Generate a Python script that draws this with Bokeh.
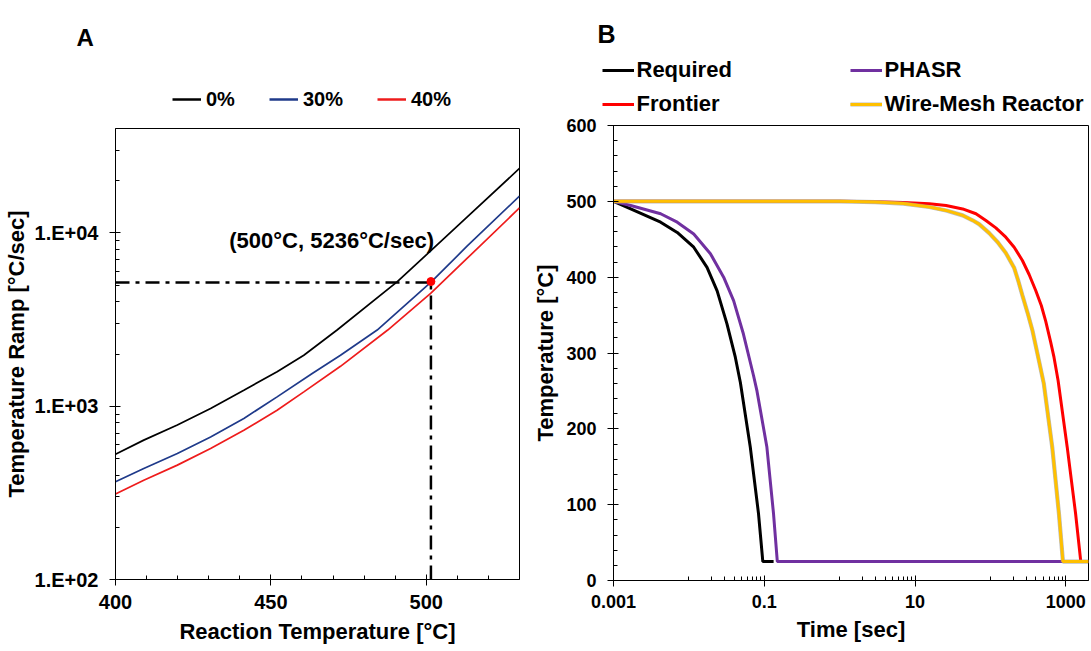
from bokeh.plotting import figure
from bokeh.models import (Range1d, FixedTicker, CustomJSTickFormatter, Legend,
                          LegendItem, Label)
from bokeh.layouts import row, column
from bokeh.embed import file_html
from bokeh.resources import INLINE

FONT = "Liberation Sans"

# ---------------- Panel A data ----------------
a_x_0 = [400, 409.1, 419.9, 430.6, 441.3, 452.0, 460.6, 471.3, 490.6, 501.4, 513.2, 530]
a_y_0 = [528, 637, 778, 970, 1237, 1578, 1968, 2750, 5210, 7870, 12350, 23550]
a_x_30 = [400, 409.1, 419.9, 430.6, 441.3, 452.0, 463.3, 472.4, 484.2, 501.7, 513.2, 530]
a_y_30 = [366, 437, 533, 665, 849, 1132, 1545, 1968, 2750, 5236, 8400, 16300]
a_x_40 = [400, 409.1, 419.9, 430.6, 441.3, 452.0, 460.6, 472.4, 487.6, 501.4, 513.2, 530]
a_y_40 = [311, 374, 457, 570, 726, 948, 1210, 1698, 2750, 4470, 7140, 13930]
a_labels = ["0%", "30%", "40%"]

point_x = [501.5]
point_y = [5236]
guide_h_x = [400, 501.5]
guide_h_y = [5170, 5170]
guide_v_x = [501.5, 501.5]
guide_v_y = [100, 5170]
annot_text = "(500°C, 5236°C/sec)"
annot_x = 436.6
annot_y = 9070

a_xticks = [400, 450, 500]
a_xminor = [410, 420, 430, 440, 460, 470, 480, 490, 510, 520]
a_yticks = [100, 1000, 10000]
a_yminor = [200, 300, 400, 500, 600, 700, 800, 900,
            2000, 3000, 4000, 5000, 6000, 7000, 8000, 9000,
            20000, 30000]

# ---------------- Panel B data ----------------
b_x_req = [0.001, 0.00169, 0.00422, 0.007, 0.0116, 0.0174, 0.0237, 0.032, 0.0413, 0.0482, 0.0652, 0.0839, 0.0957, 0.133]
b_y_req = [500, 490, 472.5, 459, 439.5, 413, 382, 338.5, 294.5, 261, 176, 88, 25, 25]
b_x_phasr = [0.001, 0.00169, 0.00422, 0.007, 0.0116, 0.0193, 0.0289, 0.0392, 0.0529, 0.0721, 0.080, 0.1083, 0.1327, 0.149, 916]
b_y_phasr = [500, 494.5, 483.6, 472.5, 457, 431, 400, 369, 325, 270, 250, 176, 88, 25, 25]
b_x_front = [0.001, 1, 3, 7, 15.5, 25.8, 42.8, 64.3, 87.1, 118, 160, 206.5, 265.6, 326, 399, 473, 541, 630, 697, 790, 1044, 1349, 1580, 2000]
b_y_front = [500, 500, 499.5, 498.5, 496.7, 494.5, 490, 483.6, 474.7, 465, 452.7, 439.5, 422, 403.5, 382.4, 362.6, 342, 314.3, 294.5, 263.7, 175.8, 88, 25, 25]
b_x_wmr = [0.001, 1, 3, 7, 15.5, 25.8, 42.8, 58, 70.7, 96.5, 125, 160, 207, 236, 265.6, 311, 361, 440, 510, 661, 811, 916, 2000]
b_y_wmr = [500, 500, 499, 497, 492.5, 488, 481.5, 475, 470, 458, 446, 432, 412, 394, 376, 353, 329.7, 290, 260, 175.8, 88, 25, 25]
b_labels = ["Required", "PHASR", "Frontier", "Wire-Mesh Reactor"]

b_xticks = [0.001, 0.1, 10, 1000]
b_xminor = [k * 0.01 for k in range(1, 10)] + [k * 1.0 for k in range(1, 10)] + [k * 100.0 for k in range(1, 10)]
b_yticks = [0, 100, 200, 300, 400, 500, 600]
b_yminor = [v for v in range(0, 601, 20) if v % 100]

A_W, B_W = 530, 560
A_HEAD, A_MAIN = 118, 532
B_HEAD, B_MAIN = 117, 533


def style_axes(p, tick_size):
    for ax in (p.xaxis[0], p.yaxis[0]):
        ax.axis_line_color = "black"
        ax.axis_line_width = 1
        ax.major_tick_line_color = "black"
        ax.minor_tick_line_color = "black"
        ax.major_tick_in = 5
        ax.major_tick_out = 6
        ax.minor_tick_in = 4
        ax.minor_tick_out = 0
        ax.major_label_text_font = FONT
        ax.major_label_text_font_style = "bold"
        ax.major_label_text_font_size = tick_size
        ax.major_label_text_color = "black"
        ax.axis_label_text_font = FONT
        ax.axis_label_text_font_style = "bold"
        ax.axis_label_text_font_size = "22px"
        ax.axis_label_text_color = "black"
    p.xgrid.visible = False
    p.ygrid.visible = False
    p.outline_line_color = "black"
    p.outline_line_width = 1
    p.outline_line_alpha = 1


def header(width, height):
    h = figure(width=width, height=height, x_range=Range1d(0, width),
               y_range=Range1d(0, height), x_axis_location=None, y_axis_location=None,
               output_backend="svg", toolbar_location=None, frame_align=False,
               min_border_left=0, min_border_right=0, min_border_top=0, min_border_bottom=0)
    h.xgrid.visible = False
    h.ygrid.visible = False
    h.outline_line_alpha = 0
    return h


def make_legend(items, x, y, glyph_w, gh, standoff, spacing, font_size, label_w=20):
    return Legend(items=items, orientation="horizontal", location=(x, y),
                  glyph_width=glyph_w, glyph_height=gh, label_standoff=standoff,
                  spacing=spacing, label_width=label_w, label_height=gh,
                  padding=0, margin=0, border_line_alpha=0, background_fill_alpha=0,
                  inactive_fill_alpha=0,
                  label_text_font=FONT, label_text_font_style="bold",
                  label_text_font_size=font_size, label_text_color="black")


# ---------------- Figure A ----------------
pa = figure(width=A_W, height=A_MAIN, y_axis_type="log",
            x_range=Range1d(400, 530), y_range=Range1d(100, 40000),
            output_backend="svg", toolbar_location=None, frame_align=False,
            min_border_left=115, min_border_right=11,
            min_border_top=10, min_border_bottom=71)
style_axes(pa, "20px")
pa.xaxis[0].ticker = FixedTicker(ticks=a_xticks, minor_ticks=a_xminor)
pa.yaxis[0].ticker = FixedTicker(ticks=a_yticks, minor_ticks=a_yminor)
pa.yaxis[0].formatter = CustomJSTickFormatter(
    code="return '1.E+' + String(Math.round(Math.log10(tick))).padStart(2, '0');")
pa.xaxis[0].axis_label = "Reaction Temperature [°C]"
pa.yaxis[0].axis_label = "Temperature Ramp [°C/sec]"
pa.xaxis[0].major_label_standoff = 9
pa.xaxis[0].axis_label_standoff = 7
pa.yaxis[0].major_label_standoff = 11
pa.yaxis[0].axis_label_standoff = 3

pa.line(a_x_0, a_y_0, line_color="black", line_width=1.7)
pa.line(a_x_30, a_y_30, line_color="#1F3A8A", line_width=1.7)
pa.line(a_x_40, a_y_40, line_color="#EE1C1C", line_width=1.7)
pa.line(guide_h_x, guide_h_y, line_color="black", line_width=2.5, line_dash="14 6 4 6")
pa.line(guide_v_x, guide_v_y, line_color="black", line_width=2.5, line_dash="14 6 4 6")
pa.scatter(point_x, point_y, size=8, color="#FF0000")
pa.add_layout(Label(x=annot_x, y=annot_y, text=annot_text, text_font=FONT,
                    text_font_style="bold", text_font_size="22px",
                    text_baseline="alphabetic", text_color="black"))

# header A: legend proxies (hidden renderers carrying the same series)
ha = header(A_W, A_HEAD)
la0 = ha.line(a_x_0, a_y_0, line_color="black", line_width=2.5, visible=False)
la30 = ha.line(a_x_30, a_y_30, line_color="#1F3A8A", line_width=2.5, visible=False)
la40 = ha.line(a_x_40, a_y_40, line_color="#EE1C1C", line_width=2.5, visible=False)
ha.add_layout(make_legend([LegendItem(label=l, renderers=[r]) for l, r in zip(a_labels, [la0, la30, la40])],
                          172, 7, 29, 24, 5, 34, "20px"), "center")
ha.add_layout(Label(x=76, y=81, text="A", text_font=FONT, text_font_style="bold",
                    text_font_size="24px", text_baseline="alphabetic", text_color="black"))

# ---------------- Figure B ----------------
pb = figure(width=B_W, height=B_MAIN, x_axis_type="log",
            x_range=Range1d(0.001, 2000), y_range=Range1d(0, 600),
            output_backend="svg", toolbar_location=None, frame_align=False,
            min_border_left=83, min_border_right=2,
            min_border_top=8, min_border_bottom=70)
style_axes(pb, "18px")
pb.xaxis[0].ticker = FixedTicker(ticks=b_xticks, minor_ticks=b_xminor)
pb.yaxis[0].ticker = FixedTicker(ticks=b_yticks, minor_ticks=b_yminor)
pb.xaxis[0].formatter = CustomJSTickFormatter(code="return String(Number(tick.toPrecision(6)));")
pb.xaxis[0].axis_label = "Time [sec]"
pb.yaxis[0].axis_label = "Temperature [°C]"
pb.xaxis[0].major_label_standoff = 8
pb.xaxis[0].axis_label_standoff = 6
pb.yaxis[0].major_label_standoff = 11
pb.yaxis[0].axis_label_standoff = 5

pb.line(b_x_req, b_y_req, line_color="black", line_width=3)
pb.line(b_x_phasr, b_y_phasr, line_color="#7030A0", line_width=3)
pb.line(b_x_front, b_y_front, line_color="#FF0000", line_width=3)
pb.line(b_x_wmr, b_y_wmr, line_color="#A0A0A0", line_width=4.2, line_alpha=0.7)
pb.line(b_x_wmr, b_y_wmr, line_color="#FFC000", line_width=3)

hb = header(B_W, B_HEAD)
lb_req = hb.line(b_x_req, b_y_req, line_color="black", line_width=3, visible=False)
lb_phasr = hb.line(b_x_phasr, b_y_phasr, line_color="#7030A0", line_width=3, visible=False)
lb_front = hb.line(b_x_front, b_y_front, line_color="#FF0000", line_width=3, visible=False)
lb_wmr_edge = hb.line(b_x_wmr, b_y_wmr, line_color="#A0A0A0", line_width=4.2, line_alpha=0.7, visible=False)
lb_wmr = hb.line(b_x_wmr, b_y_wmr, line_color="#FFC000", line_width=3, visible=False)
hb.add_layout(make_legend([LegendItem(label=b_labels[0], renderers=[lb_req]),
                           LegendItem(label=b_labels[1], renderers=[lb_phasr])],
                          71.5, 34, 32, 26, 3, 8, "22px", 205), "center")
hb.add_layout(make_legend([LegendItem(label=b_labels[2], renderers=[lb_front]),
                           LegendItem(label=b_labels[3], renderers=[lb_wmr_edge, lb_wmr])],
                          71.5, 0, 32, 26, 3, 8, "22px", 205), "center")
hb.add_layout(Label(x=67, y=84, text="B", text_font=FONT, text_font_style="bold",
                    text_font_size="25px", text_baseline="alphabetic", text_color="black"))

layout = row(column(ha, pa), column(hb, pb))
open("out.html", "w").write(file_html(layout, INLINE))
